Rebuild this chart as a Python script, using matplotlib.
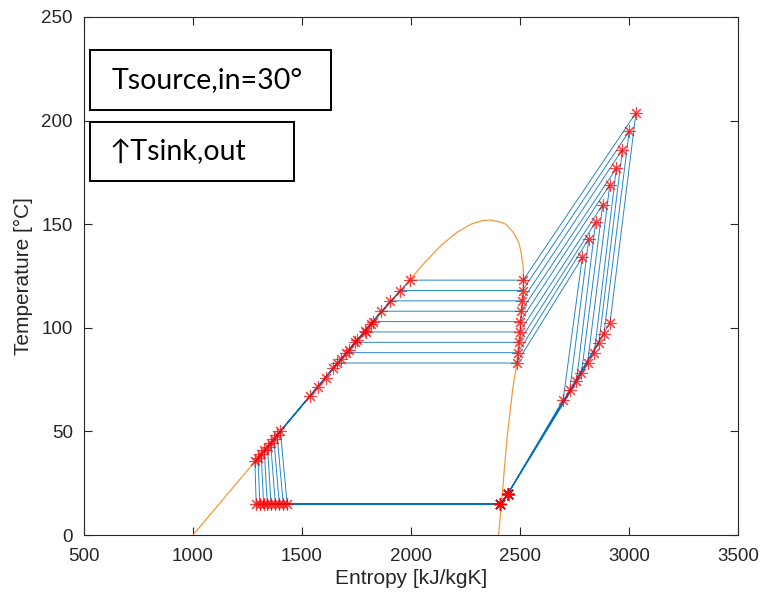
import numpy as np
import matplotlib
matplotlib.use('Agg')
import matplotlib.pyplot as plt
from matplotlib.patches import Rectangle

# saturation dome (entropy, temperature)
dome_s = [1000, 1160, 1320, 1480, 1640, 1805, 1970, 2050, 2140, 2210, 2275, 2330, 2366,
          2410, 2435, 2470, 2495, 2506, 2514, 2517, 2510, 2499, 2486, 2466, 2440, 2415, 2402]
dome_T = [0, 20, 40, 60, 80, 100, 120, 130, 140, 146, 150, 151.8, 152,
          151, 150, 146, 141, 136, 130, 123, 113, 98, 83, 70, 46, 15, 0]

# cycle states, one entry per condensing temperature
T_cond = [83, 88, 93, 98, 103, 108, 113, 118, 123]
s_suc, T_suc = 2445, 20
s_mid = [2698, 2728, 2759, 2782, 2810, 2841, 2862, 2885, 2913]
T_mid = [65.3, 69.8, 74.2, 78.2, 83, 87.9, 92.7, 97.1, 102.4]
s_dis = [2786, 2816, 2847, 2880, 2912, 2942, 2970, 3001, 3032]
T_dis = [134, 143, 151, 159.5, 169, 177, 186, 194.8, 203.7]
s_vap = [2485, 2491, 2495, 2498, 2501, 2505, 2509, 2512, 2515]
s_liq = [1662, 1702, 1745, 1792, 1826, 1864, 1906, 1949, 1995]
s_sc1 = [1536, 1572, 1608, 1644, 1680, 1716, 1752, 1788, 1816]
T_sc1 = [67, 71.5, 76, 80.5, 85, 89.5, 94, 98.5, 102]
s_sc2 = [1284, 1298, 1313, 1327, 1342, 1356, 1371, 1386, 1401]
T_sc2 = [35.5, 37.3, 39.1, 40.9, 42.7, 44.5, 46.3, 48.1, 50]
s_exp = [1290, 1307, 1324, 1341, 1358, 1378, 1396, 1414, 1432]
s_evap, T_evap = 2409, 15

blue = '#0072BD'
orange = '#F59A3C'
ast = (8, 2, 0)

fig = plt.figure(figsize=(7.6, 6.0), dpi=100)
ax = fig.add_axes([0.1105, 0.1083, 0.8605, 0.8634])

ax.plot(dome_s, dome_T, color=orange, lw=0.9, zorder=2)

for i in range(len(T_cond)):
    Tc = T_cond[i]
    s = [s_suc, s_mid[i], s_dis[i], s_vap[i], s_liq[i], s_sc1[i], s_sc2[i], s_exp[i], s_evap, s_suc]
    T = [T_suc, T_mid[i], T_dis[i], Tc, Tc, T_sc1[i], T_sc2[i], T_evap, T_evap, T_suc]
    ax.plot(s, T, color=blue, lw=0.7, alpha=0.85, zorder=3)
    ax.plot(s, T, ls='none', marker=ast, color='red', ms=9, mew=0.8, alpha=0.75, zorder=4)

ax.set_xlim(500, 3500)
ax.set_ylim(0, 250)
ax.set_xticks(np.arange(500, 3501, 500))
ax.set_yticks(np.arange(0, 251, 50))

axc = '#262626'
for sp in ax.spines.values():
    sp.set_color(axc)
    sp.set_linewidth(0.8)
ax.tick_params(direction='in', length=6, width=0.8, colors=axc, labelsize=13.5,
               top=True, right=True)
ax.tick_params(axis='x', pad=9)
ax.tick_params(axis='y', pad=8)
for lab in ax.get_xticklabels() + ax.get_yticklabels():
    lab.set_family('Liberation Sans')
ax.set_xlabel('Entropy [kJ/kgK]', fontsize=15, family='Liberation Sans', color=axc, labelpad=3)
ax.set_ylabel('Temperature [°C]', fontsize=15, family='Liberation Sans', color=axc, labelpad=6)

# annotation boxes (pixel positions converted to figure fraction)
W, H = 760.0, 600.0
fig.patches.append(Rectangle((90 / W, 1 - 110 / H), 241 / W, 60 / H, transform=fig.transFigure,
                             fill=True, facecolor='white', edgecolor='black', lw=1.4, zorder=10))
fig.patches.append(Rectangle((90 / W, 1 - 181 / H), 204 / W, 59 / H, transform=fig.transFigure,
                             fill=True, facecolor='white', edgecolor='black', lw=1.4, zorder=10))
fig.text(112 / W, 1 - 80 / H, 'Tsource,in=30°', fontsize=20.5, family=['Lato', 'DejaVu Sans'],
         va='center', ha='left', zorder=11)
fig.text(110 / W, 1 - 152 / H, '↑Tsink,out', fontsize=20.5, family=['Lato', 'DejaVu Sans'],
         va='center', ha='left', zorder=11)

fig.savefig('out.png', dpi=100)
